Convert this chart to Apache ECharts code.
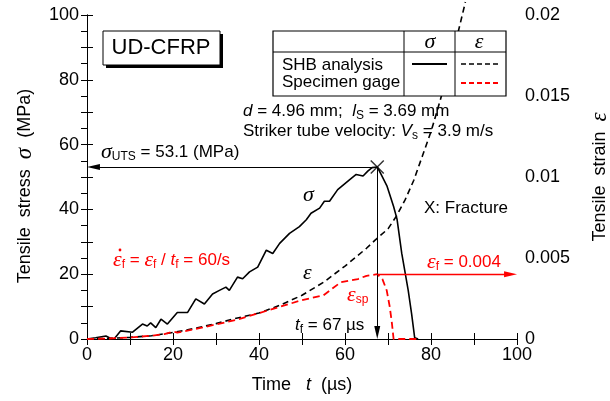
<!DOCTYPE html>
<html>
<head>
<meta charset="utf-8">
<title>UD-CFRP</title>
<script src="https://cdn.jsdelivr.net/npm/echarts@6/dist/echarts.min.js"></script>
<style>
  * {margin: 0; padding: 0;}
  #chart {width: 610px; height: 401px; background: #fff;}
</style>
</head>
<body>
<div id="chart"></div>
<script>
// SHB analysis stress, [t (us), sigma (MPa)]
var stressData = [[0,0],[2,0.4],[4.4,0.9],[5.3,0.3],[6.3,0],[7.8,2.5],[10.6,2.1],[12.9,4.6],[14,4],[14.8,5],
  [16,3.5],[17.2,6.1],[18.7,4.6],[21,8.2],[23.4,8.2],[25.3,12.4],[27.3,10.8],[29.2,13.9],[30.8,15],[32.3,16],
  [33.1,15],[35,19.1],[36.2,18.6],[37.8,20.7],[39.7,22.2],[41.7,27.4],[43.2,26.4],[44.8,29.5],[47.1,32.6],
  [49.4,34.7],[51,36.8],[52.1,38.8],[54.1,40.4],[55.2,42.5],[56.4,42.5],[58.3,46.1],[61.1,49.2],[62.6,50.8],
  [64.2,50.3],[65.3,51.8],[66.3,52.9],[67.5,53.1],[68.4,50.8],[69.8,47.1],[71.3,40.9],[72.1,37],[73.2,26.4],
  [74.7,15],[75.5,7.7],[76.2,0.4],[77,0]];
// SHB analysis strain, [t, eps]
var strainShb = [[0,0],[5,0.00003],[10,0.0001],[15,0.0002],[20,0.0004],[25,0.00065],[30,0.00095],[35,0.0013],
  [40,0.0016],[45,0.0021],[50,0.0027],[55,0.0035],[60,0.0045],[65,0.0056],[67,0.0061],[70,0.0068],[72,0.0076],
  [74,0.0086],[76,0.0098],[78,0.0113],[80,0.0128],[82,0.0146],[84,0.0165],[86,0.0186],[88,0.0208]];
// specimen gage strain, [t, eps]
var strainGage = [[0,0],[5,0.00003],[10,0.0001],[15,0.0002],[18,0.0003],[20,0.00045],[21,0.0004],[25,0.0006],
  [30,0.0009],[35,0.0012],[40,0.0016],[45,0.002],[50,0.0024],[55,0.0027],[57,0.0031],[59,0.0035],[61,0.0036],
  [63,0.0037],[65,0.0039],[67.5,0.004],[68.7,0.0037],[69.7,0.003],[70.4,0.002],[70.9,0.001],[71.3,0],[77,0]];
var fracture = [67.5, 53.1];
var strainF = 0.004;

var SANS = '"Liberation Sans", Arial, sans-serif';
var SERIF = '"Liberation Serif", "Times New Roman", serif';
var RED = '#ff0000';

var rich = {
  n: {fontFamily: SANS, fontSize: 17, lineHeight: 22},
  i: {fontFamily: SANS, fontStyle: 'italic', fontSize: 17, lineHeight: 22},
  g: {fontFamily: SERIF, fontStyle: 'italic', fontSize: 22, lineHeight: 22},
  s: {fontFamily: SANS, fontSize: 12, lineHeight: 12, verticalAlign: 'bottom'}
};
var nameRich = {
  n: {fontFamily: SANS, fontSize: 18, lineHeight: 22},
  i: {fontFamily: SANS, fontStyle: 'italic', fontSize: 18, lineHeight: 22},
  g: {fontFamily: SERIF, fontStyle: 'italic', fontSize: 23, lineHeight: 22}
};

function txt(x, y, text, color, align) {
  return {
    type: 'text', x: x, y: y, z: 100,
    style: {text: text, rich: rich, fill: color || '#000', align: align || 'left', verticalAlign: 'middle'}
  };
}
function seg(x1, y1, x2, y2, color, width, dash) {
  return {
    type: 'line', z: 100,
    shape: {x1: x1, y1: y1, x2: x2, y2: y2},
    style: {stroke: color, lineWidth: width, lineDash: dash || null}
  };
}

var chart = echarts.init(document.getElementById('chart'));

var axisCommon = {
  axisLine: {lineStyle: {color: '#000', width: 1}},
  axisTick: {inside: true, length: 6, lineStyle: {color: '#000'}},
  minorTick: {show: true, length: 6, lineStyle: {color: '#000'}},
  splitLine: {show: false},
  axisLabel: {color: '#000', fontFamily: SANS, fontSize: 18}
};

var option = {
  animation: false,
  grid: {left: 87, right: 93, top: 15, bottom: 62, containLabel: false, outerBoundsMode: 'none'},
  xAxis: [
    echarts.util.merge({
      type: 'value', min: 0, max: 100, interval: 20,
      minorTick: {splitNumber: 2},
      axisLabel: {margin: 7},
      name: '{n|Time   }{i|t}{n|  (µs)}',
      nameLocation: 'middle', nameGap: 35,
      nameTextStyle: {rich: nameRich, color: '#000'}
    }, axisCommon, false),
    echarts.util.merge({
      type: 'value', min: 0, max: 100, interval: 20, position: 'top',
      minorTick: {splitNumber: 2},
      axisLabel: {show: false}
    }, axisCommon, false)
  ],
  yAxis: [
    echarts.util.merge({
      type: 'value', min: 0, max: 100, interval: 20,
      minorTick: {splitNumber: 2},
      axisLabel: {margin: 8},
      name: '{n|Tensile  stress  }{g|σ}{n|  (MPa)}',
      nameLocation: 'middle', nameGap: 51, nameRotate: 90,
      nameTextStyle: {rich: nameRich, color: '#000', padding: [0, 18, 0, 0]}
    }, axisCommon, false),
    echarts.util.merge({
      type: 'value', min: 0, max: 0.02, interval: 0.005, position: 'right',
      minorTick: {splitNumber: 5},
      axisLabel: {margin: 8},
      name: '{n|Tensile  strain  }{g|ε}',
      nameLocation: 'middle', nameGap: 72, nameRotate: 90,
      nameTextStyle: {rich: nameRich, color: '#000'}
    }, axisCommon, false)
  ],
  series: [
    {
      name: 'stress', type: 'line', xAxisIndex: 0, yAxisIndex: 0,
      data: stressData, showSymbol: false, silent: true,
      lineStyle: {color: '#000', width: 1.6},
      markLine: {
        silent: true, symbol: ['none', 'none'],
        label: {show: false},
        lineStyle: {color: '#000', width: 1, type: 'solid'},
        data: [
          [{coord: fracture}, {coord: [1.5, fracture[1]], symbol: 'triangle', symbolSize: [6, 13]}],
          [{coord: fracture}, {coord: [fracture[0], 2], symbol: 'triangle', symbolSize: [6, 13]}]
        ]
      }
    },
    {
      name: 'shb strain', type: 'line', xAxisIndex: 0, yAxisIndex: 1,
      data: strainShb, showSymbol: false, silent: true, clip: false,
      lineStyle: {color: '#000', width: 1.6, type: [6, 4]}
    },
    {
      name: 'gage strain', type: 'line', xAxisIndex: 0, yAxisIndex: 1,
      data: strainGage, showSymbol: false, silent: true,
      lineStyle: {color: RED, width: 1.8, type: [7, 4]},
      markLine: {
        silent: true, symbol: ['none', 'none'],
        label: {show: false},
        lineStyle: {color: RED, width: 1.3, type: 'solid'},
        data: [
          [{coord: [fracture[0], strainF]}, {coord: [98.5, strainF], symbol: 'triangle', symbolSize: [6, 13]}]
        ]
      }
    },
    {
      name: 'fracture', type: 'scatter', xAxisIndex: 0, yAxisIndex: 0,
      data: [fracture], silent: true,
      symbol: 'path://M0,0L10,10M10,0L0,10', symbolSize: 13,
      itemStyle: {color: 'none', borderColor: '#000', borderWidth: 1.5}
    }
  ],
  graphic: [
    // UD-CFRP box with shadow
    {type: 'rect', z: 100, shape: {x: 106, y: 34, width: 117, height: 34}, style: {fill: '#000'}},
    {type: 'rect', z: 101, shape: {x: 103, y: 31, width: 117, height: 34}, style: {fill: '#fff', stroke: '#000', lineWidth: 1}},
    {type: 'text', z: 102, x: 161, y: 48, style: {text: 'UD-CFRP', fontFamily: SANS, fontSize: 22, fill: '#000', align: 'center', verticalAlign: 'middle'}},
    // legend table
    {type: 'rect', z: 100, shape: {x: 273, y: 31, width: 233, height: 65}, style: {fill: '#fff', stroke: '#000', lineWidth: 1.2}},
    seg(273, 52, 506, 52, '#000', 1),
    seg(404, 31, 404, 96, '#000', 1),
    seg(455, 31, 455, 96, '#000', 1),
    txt(430, 42, '{g|σ}', '#000', 'center'),
    txt(479, 42, '{g|ε}', '#000', 'center'),
    txt(282, 65, '{n|SHB analysis}'),
    txt(282, 82, '{n|Specimen gage}'),
    seg(412, 64, 447, 64, '#000', 1.8),
    seg(461, 64, 498, 64, '#000', 1.6, [5, 3]),
    seg(461, 83, 498, 83, RED, 1.8, [5, 3]),
    // annotations
    txt(243, 111, '{i|d}{n| = 4.96 mm;  }{i|l}{s|S}{n| = 3.69 mm}'),
    txt(243, 131, '{n|Striker tube velocity: }{i|V}{s|s}{n| = 3.9 m/s}'),
    txt(101, 152, '{g|σ}{s|UTS}{n| = 53.1 (MPa)}'),
    txt(424, 208, '{n|X: Fracture}'),
    txt(303, 195, '{g|σ}'),
    txt(303, 273, '{g|ε}'),
    txt(113, 260, '{g|ε}{s|f}{n| = }{g|ε}{s|f}{n| / }{i|t}{s|f}{n| = 60/s}', RED),
    {type: 'circle', z: 100, shape: {cx: 120, cy: 250, r: 1.4}, style: {fill: RED}},
    txt(427, 262, '{g|ε}{s|f}{n| = 0.004}', RED),
    txt(347, 295, '{g|ε}{s|sp}', RED),
    txt(295, 325, '{i|t}{s|f}{n| = 67 µs}')
  ]
};

chart.setOption(option);
</script>
</body>
</html>
